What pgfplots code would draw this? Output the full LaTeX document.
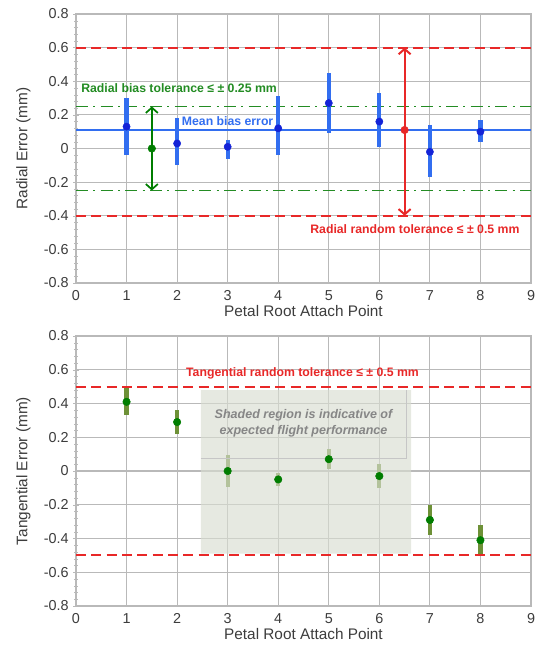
\documentclass[border=0pt]{standalone}
\usepackage{pgfplots}
\pgfplotsset{compat=1.18}
\usepackage{fontspec}
\setmainfont{Liberation Sans}
\usetikzlibrary{arrows.meta}

\definecolor{tolred}{RGB}{232,40,40}
\definecolor{biasgreen}{RGB}{35,140,35}
\definecolor{ptblue}{RGB}{50,110,240}
\definecolor{dotblue}{RGB}{20,35,215}
\definecolor{olivebar}{RGB}{110,145,55}
\definecolor{dkgreen}{RGB}{0,125,0}
\definecolor{gridgray}{RGB}{185,185,185}
\definecolor{txtgray}{RGB}{60,60,60}
\definecolor{shade}{RGB}{216,221,209}

% radial error: mean, +err, -err
\pgfplotstableread{
x y ep em
1 0.13 0.17 0.17
2 0.03 0.15 0.13
3 0.01 0.04 0.075
4 0.12 0.19 0.16
5 0.27 0.18 0.18
6 0.16 0.17 0.15
7 -0.02 0.16 0.15
8 0.10 0.07 0.06
}\radial

% tangential error
\pgfplotstableread{
x y e
1 0.41 0.08
2 0.29 0.07
3 0.00 0.095
4 -0.05 0.04
5 0.07 0.06
6 -0.03 0.07
7 -0.29 0.09
8 -0.41 0.09
}\tangential

\tikzset{
  note/.style={font=\bfseries\fontsize{9.2}{11}\selectfont, inner sep=0pt},
  barb/.style={{Straight Barb[length=4pt,width=9pt]}-{Straight Barb[length=4pt,width=9pt]}}
}

\pgfplotsset{
  panel/.style={
    scale only axis, width=341.25pt,
    xmin=0, xmax=9, ymin=-0.8, ymax=0.8,
    xtick={0,1,...,9},
    ytick={-0.8,-0.6,-0.4,-0.2,0,0.2,0.4,0.6,0.8},
    minor y tick num=4,
    grid=major,
    major grid style={gridgray, line width=0.9pt},
    axis line style={gridgray, line width=0.9pt},
    tick align=center, ytick pos=left,
    xtick style={draw=none},
    ytick style={gridgray},
    major tick length=4pt, minor tick length=3pt,
    tick label style={font=\fontsize{10.8}{12}\selectfont, text=txtgray},
    label style={font=\fontsize{11.5}{13}\selectfont, text=txtgray},
    xlabel={Petal Root Attach Point},
    xlabel style={yshift=3pt},
    ylabel style={yshift=3pt},
    /pgf/number format/.cd, fixed, precision=1, assume math mode=true
  }
}

\begin{document}
\begin{tikzpicture}
\useasboundingbox (0,0) rectangle (402.75pt,-486.75pt);

% top panel: radial
\begin{axis}[panel, height=201.75pt, at={(57pt,-212.25pt)}, anchor=south west,
  ylabel={Radial Error (mm)}]
  \addplot[tolred, line width=1.6pt, dash pattern=on 7.5pt off 4pt] coordinates {(0,0.6) (9,0.6)};
  \addplot[tolred, line width=1.6pt, dash pattern=on 7.5pt off 4pt] coordinates {(0,-0.4) (9,-0.4)};
  \addplot[biasgreen, line width=1.4pt, dash pattern=on 9pt off 4pt on 1.5pt off 4pt] coordinates {(0,0.25) (9,0.25)};
  \addplot[biasgreen, line width=1.4pt, dash pattern=on 9pt off 4pt on 1.5pt off 4pt] coordinates {(0,-0.25) (9,-0.25)};
  \addplot[ptblue, line width=1.6pt] coordinates {(0,0.11) (9,0.11)};
  \addplot[only marks, mark=*, mark size=2.7pt, color=dotblue,
    error bars/.cd, y dir=both, y explicit, error mark=none,
    error bar style={line width=3.2pt, ptblue}]
    table[x=x, y=y, y error plus=ep, y error minus=em] {\radial};
  \addplot[dkgreen, line width=1.3pt, barb] coordinates {(1.5,-0.25) (1.5,0.25)};
  \addplot[only marks, mark=*, mark size=2.8pt, color=dkgreen] coordinates {(1.5,0)};
  \addplot[tolred, line width=1.5pt, barb] coordinates {(6.5,-0.4) (6.5,0.6)};
  \addplot[only marks, mark=*, mark size=2.8pt, color=tolred] coordinates {(6.5,0.11)};
  \node[note, anchor=west, text=biasgreen] at (axis cs:0.1,0.36) {Radial bias tolerance ≤ ± 0.25 mm};
  \node[note, anchor=west, text=ptblue] at (axis cs:2.09,0.165) {Mean bias error};
  \node[note, anchor=west, text=tolred] at (axis cs:4.63,-0.48) {Radial random tolerance ≤ ± 0.5 mm};
\end{axis}

% bottom panel: tangential
\begin{axis}[panel, height=202.5pt, at={(57pt,-454.5pt)}, anchor=south west,
  ylabel={Tangential Error (mm)}]
  \addplot[only marks, mark=*, mark size=2.8pt, color=dkgreen,
    error bars/.cd, y dir=both, y explicit, error mark=none,
    error bar style={line width=3.2pt, olivebar}]
    table[x=x, y=y, y error=e] {\tangential};
  \addplot[fill=shade, draw=none, fill opacity=0.65] coordinates {(2.47,-0.49) (6.63,-0.49) (6.63,0.48) (2.47,0.48)} \closedcycle;
  \addplot[draw=gray!45, line width=0.5pt] coordinates {(2.47,0.075) (6.53,0.075) (6.53,0.48)};
  \addplot[tolred, line width=1.6pt, dash pattern=on 7.5pt off 4pt] coordinates {(0,0.5) (9,0.5)};
  \addplot[tolred, line width=1.6pt, dash pattern=on 7.5pt off 4pt] coordinates {(0,-0.5) (9,-0.5)};
  \node[note, text=tolred] at (axis cs:4.48,0.58) {Tangential random tolerance ≤ ± 0.5 mm};
  \node[font=\bfseries\itshape\fontsize{9.4}{12.5}\selectfont, text=gray!95, align=center]
    at (axis cs:4.5,0.283) {Shaded region is indicative of\\expected flight performance};
\end{axis}
\end{tikzpicture}
\end{document}
